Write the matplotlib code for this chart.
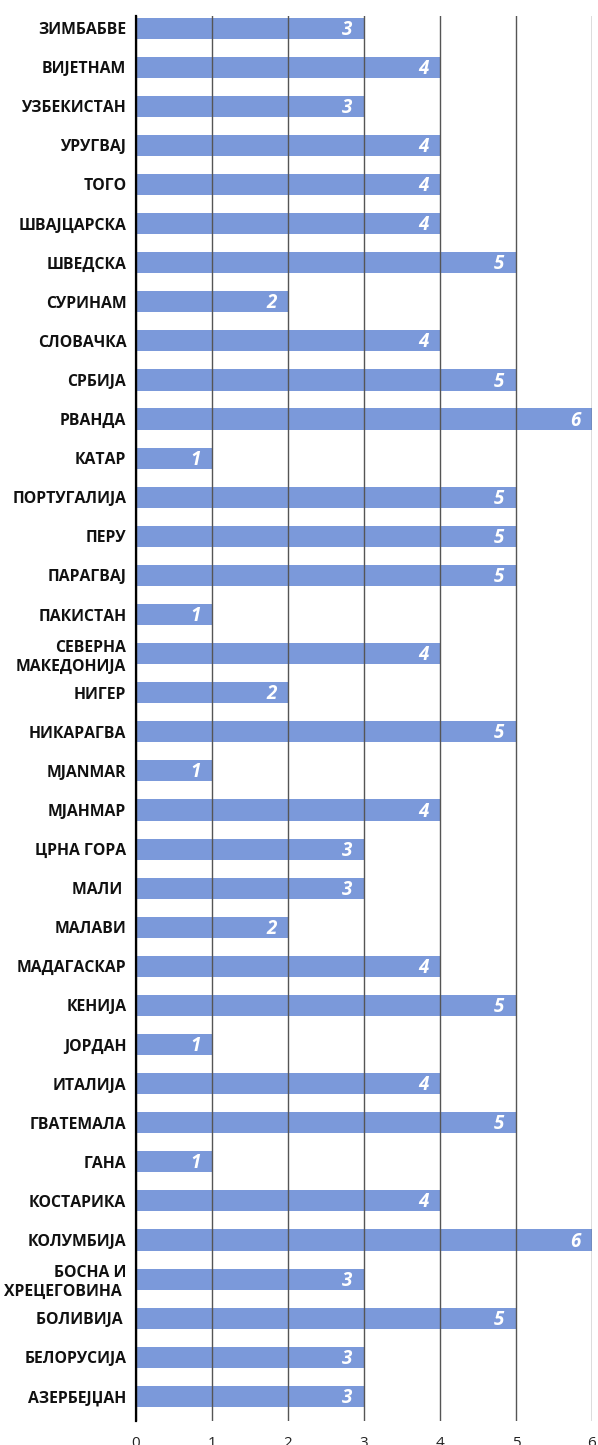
import matplotlib
matplotlib.use("Agg")
import matplotlib.pyplot as plt

countries = [
    "ЗИМБАБВЕ", "ВИЈЕТНАМ", "УЗБЕКИСТАН", "УРУГВАЈ", "ТОГО", "ШВАЈЦАРСКА",
    "ШВЕДСКА", "СУРИНАМ", "СЛОВАЧКА", "СРБИЈА", "РВАНДА", "КАТАР",
    "ПОРТУГАЛИЈА", "ПЕРУ", "ПАРАГВАЈ", "ПАКИСТАН", "СЕВЕРНА\nМАКЕДОНИЈА", "НИГЕР",
    "НИКАРАГВА", "MJANMAR", "МЈАНМАР", "ЦРНА ГОРА", "МАЛИ ", "МАЛАВИ",
    "МАДАГАСКАР", "КЕНИЈА", "ЈОРДАН", "ИТАЛИЈА", "ГВАТЕМАЛА", "ГАНА",
    "КОСТАРИКА", "КОЛУМБИЈА", "БОСНА И\nХРЕЦЕГОВИНА ", "БОЛИВИЈА ", "БЕЛОРУСИЈА", "АЗЕРБЕЈЏАН",
]
values = [
    3, 4, 3, 4, 4, 4,
    5, 2, 4, 5, 6, 1,
    5, 5, 5, 1, 4, 2,
    5, 1, 4, 3, 3, 2,
    4, 5, 1, 4, 5, 1,
    4, 6, 3, 5, 3, 3,
]
xticks = [0, 1, 2, 3, 4, 5, 6]

bar_color = "#7b99da"
grid_color = "#555555"

fig = plt.figure(figsize=(5.98, 14.45), dpi=100)
ax = fig.add_axes([136 / 598, 1 - 1421 / 1445, (592 - 136) / 598, (1421 - 16) / 1445])

pos = list(range(len(countries)))
ax.barh(pos, values, height=0.54, color=bar_color, zorder=1)

for y, v in zip(pos, values):
    ax.text(v - 0.15, y + 0.04, str(v), ha="right", va="center", color="white",
            fontsize=13.5, fontweight="bold", fontstyle="italic",
            family=["Open Sans", "DejaVu Sans"], zorder=3)

ax.set_xlim(0, 6)
ax.set_ylim(35.63, -0.31)
ax.set_xticks(xticks)
ax.xaxis.grid(True, color=grid_color, linewidth=1.0, zorder=2)
ax.set_axisbelow(False)
ax.set_yticks(pos)
ax.set_yticklabels(countries, fontsize=11.3, fontweight="bold",
                   family=["Open Sans", "DejaVu Sans"], linespacing=1.25)
for lbl in ax.get_xticklabels():
    lbl.set_family(["Open Sans", "DejaVu Sans"])
    lbl.set_fontsize(11)
ax.tick_params(axis="y", length=0, pad=7, colors="#111111")
ax.tick_params(axis="x", length=0, pad=11, colors="#222222")

for s in ["top", "right", "bottom"]:
    ax.spines[s].set_visible(False)
ax.spines["left"].set_color("black")
ax.spines["left"].set_linewidth(1.6)
ax.spines["left"].set_zorder(4)

fig.savefig("out.png", dpi=100)
